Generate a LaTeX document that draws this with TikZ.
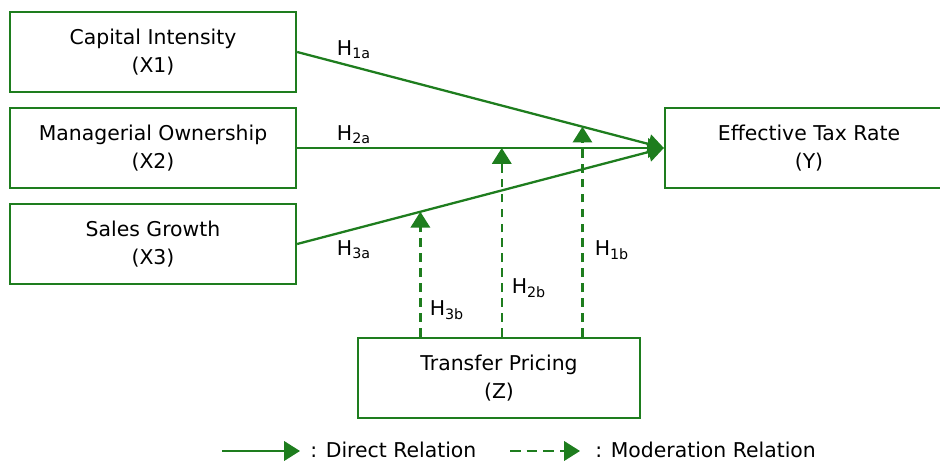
\documentclass[tikz,border=0pt]{standalone}
\usepackage{fontspec}
\setmainfont{DejaVu Sans}
\usetikzlibrary{arrows.meta,%
                calc,positioning}
\definecolor{boxgreen}{RGB}{30,125,30}

\begin{document}
\begin{tikzpicture}[
  box/.style={draw=boxgreen, line width=1.3pt, minimum width=5.72cm, minimum height=1.6cm,
    align=center, font=\fontsize{11.6}{16}\selectfont},
  direct/.style={draw=boxgreen, line width=1.3pt, -{Triangle[length=9pt,width=11pt]}},
  moder/.style={direct, dash pattern=on 5pt off 3.5pt},
  hlab/.style={font=\fontsize{11.6}{13}\selectfont},
  legtext/.style={font=\fontsize{11.6}{13}\selectfont, inner sep=0pt, anchor=west}]
\useasboundingbox (0,0) rectangle (18.8,-9.22);
\node[box] (x1) at (3.06,-1.04) {Capital Intensity\\(X1)};
\node[box] (x2) at (3.06,-2.96) {Managerial Ownership\\(X2)};
\node[box] (x3) at (3.06,-4.88) {Sales Growth\\(X3)};
\node[box, minimum width=5.76cm] (y) at (16.18,-2.96) {Effective Tax Rate\\(Y)};
\node[box, minimum width=5.64cm] (z) at (9.98,-7.56) {Transfer Pricing\\(Z)};
% direct paths
\draw[direct] (x1.east) -- (y.west);
\draw[direct] (x2.east) -- (y.west);
\draw[direct] (x3.east) -- (y.west);
% moderation paths
\coordinate (h1) at ($(x1.east)!0.778!(y.west)$);
\coordinate (h2) at ($(x2.east)!0.558!(y.west)$);
\coordinate (h3) at ($(x3.east)!0.336!(y.west)$);
\draw[moder] (h1 |- z.north) -- (h1);
\draw[moder] (h2 |- z.north) -- (h2);
\draw[moder] (h3 |- z.north) -- (h3);
% labels
\node[hlab] (l1a) at (7.08,-1.0) {H\textsubscript{1a}};
\node[hlab] (l2a) at (7.08,-2.7) {H\textsubscript{2a}};
\node[hlab] (l3a) at (7.08,-5.0) {H\textsubscript{3a}};
\node[hlab] (l3b) at (8.94,-6.2) {H\textsubscript{3b}};
\node[hlab] (l2b) at (10.58,-5.76) {H\textsubscript{2b}};
\node[hlab] (l1b) at (12.24,-5.0) {H\textsubscript{1b}};
% legend
\coordinate (d1) at (4.44,-9.02);
\coordinate (d2) at (6.0,-9.02);
\coordinate (m1) at (10.2,-9.02);
\coordinate (m2) at (11.6,-9.02);
\draw[direct] (d1) -- (d2);
\draw[moder, dash pattern=on 6pt off 3.5pt] (m1) -- (m2);
\node[legtext] (dtxt) at (6.2,-8.99) {: Direct Relation};
\node[legtext] (mtxt) at (11.9,-8.99) {: Moderation Relation};
\end{tikzpicture}
\end{document}
